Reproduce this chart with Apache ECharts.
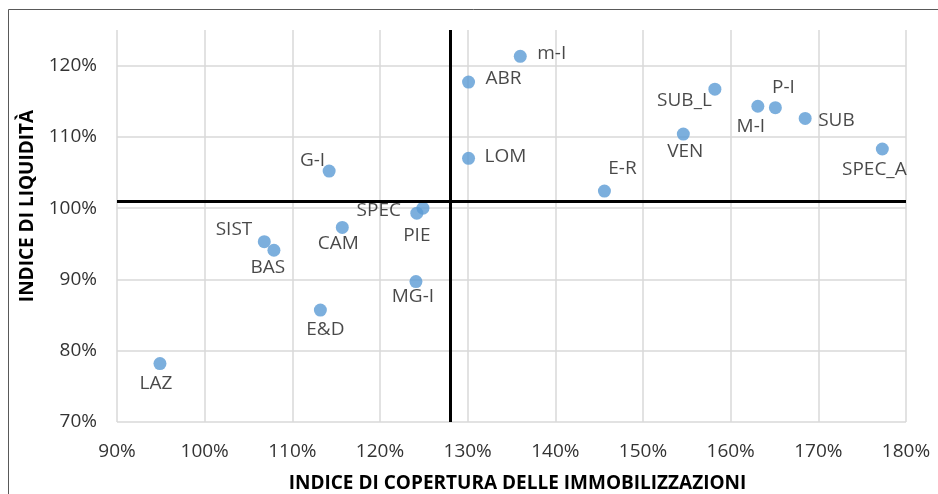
<!DOCTYPE html>
<html>
<head>
<meta charset="utf-8">
<script src="https://cdn.jsdelivr.net/npm/echarts@6/dist/echarts.min.js"></script>
<style>
  html, body { margin: 0; padding: 0; background: #ffffff; }
  #chart { width: 938px; height: 494px; }
</style>
</head>
<body>
<div id="chart"></div>
<script>
// Regioni / settori
const names = ['m-I', 'ABR', 'LOM', 'G-I', 'SPEC', 'PIE', 'CAM', 'SIST', 'BAS', 'MG-I',
               'E&D', 'LAZ', 'E-R', 'VEN', 'SUB_L', 'M-I', 'P-I', 'SUB', 'SPEC_A'];
// Indice di copertura delle immobilizzazioni
const copertura = [1.360, 1.301, 1.301, 1.142, 1.249, 1.242, 1.157, 1.068, 1.079, 1.241,
                   1.132, 0.949, 1.456, 1.546, 1.582, 1.631, 1.651, 1.685, 1.773];
// Indice di liquidità
const liquidita = [1.213, 1.177, 1.070, 1.052, 1.000, 0.993, 0.973, 0.953, 0.941, 0.897,
                   0.857, 0.782, 1.024, 1.104, 1.167, 1.143, 1.141, 1.126, 1.083];
// Valori medi che dividono il piano in quadranti
const mediaCopertura = 1.28;
const mediaLiquidita = 1.013;
// Etichette degli assi
const xTicks = [0.9, 1.0, 1.1, 1.2, 1.3, 1.4, 1.5, 1.6, 1.7, 1.8];
const yTicks = [0.7, 0.8, 0.9, 1.0, 1.1, 1.2];

// Posizione delle etichette rispetto al punto: [allineamento, dx, dy]
const labelPlace = {
  'm-I': ['left', 17, -3], 'ABR': ['left', 17, -3], 'LOM': ['left', 16, -2],
  'G-I': ['right', -4, -11], 'SPEC': ['right', -22, 2], 'PIE': ['center', 0, 22],
  'CAM': ['center', -4, 16], 'SIST': ['right', -12, -12], 'BAS': ['center', -6, 17],
  'MG-I': ['center', -3, 15], 'E&D': ['center', 5, 19], 'LAZ': ['center', -4, 20],
  'E-R': ['center', 18, -22], 'VEN': ['center', 2, 18], 'SUB_L': ['right', -3, 11],
  'M-I': ['center', -7, 20], 'P-I': ['center', 8, -20], 'SUB': ['left', 13, 2],
  'SPEC_A': ['center', -8, 21]
};

const FONT = '"Open Sans", "Noto Sans", sans-serif';
const pct = v => Math.round(v * 100) + '%';

const points = names.map((n, i) => {
  const p = labelPlace[n];
  return {
    name: n,
    value: [copertura[i], liquidita[i]],
    label: { align: p[0], offset: [p[1], p[2]] }
  };
});

const chart = echarts.init(document.getElementById('chart'), null, { renderer: 'canvas' });
chart.setOption({
  backgroundColor: '#ffffff',
  animation: false,
  graphic: [{
    type: 'rect',
    shape: { x: 8.5, y: 9.5, width: 1000, height: 1000 },
    style: { fill: 'none', stroke: '#595959', lineWidth: 1 },
    silent: true
  }],
  grid: { left: 117, right: 32, top: 30, bottom: 72, containLabel: false, outerBoundsMode: 'none' },
  xAxis: {
    type: 'value', min: 0.9, max: 1.8, interval: 0.1,
    name: 'INDICE DI COPERTURA DELLE IMMOBILIZZAZIONI',
    nameLocation: 'middle', nameGap: 52,
    nameTextStyle: { fontFamily: FONT, fontSize: 19, fontWeight: 'bold', color: '#000', padding: [0, 0, 0, 12] },
    axisLine: { show: false }, axisTick: { show: false },
    axisLabel: { formatter: pct, fontFamily: FONT, fontSize: 19, color: '#333333', margin: 20 },
    splitLine: { show: true, lineStyle: { color: '#d9d9d9', width: 1.5 } }
  },
  yAxis: {
    type: 'value', min: 0.7, max: 1.25, interval: 0.1,
    name: 'INDICE DI LIQUIDITÀ',
    nameLocation: 'middle', nameGap: 80, nameRotate: 90,
    nameTextStyle: { fontFamily: FONT, fontSize: 19, fontWeight: 'bold', color: '#000', padding: [0, 0, 0, 40] },
    axisLine: { show: false }, axisTick: { show: false },
    axisLabel: { formatter: pct, fontFamily: FONT, fontSize: 19, color: '#333333', margin: 20, showMaxLabel: false },
    splitLine: { show: true, showMaxLine: false, lineStyle: { color: '#d9d9d9', width: 1.5 } }
  },
  series: [{
    type: 'scatter',
    data: points,
    symbol: 'circle',
    symbolSize: 13,
    itemStyle: { color: '#5b9bd5' },
    label: {
      show: true, position: 'inside', verticalAlign: 'middle',
      formatter: p => p.name,
      fontFamily: FONT, fontSize: 19, color: '#1a1a1a'
    },
    markLine: {
      silent: true, symbol: 'none',
      label: { show: false },
      lineStyle: { color: '#000000', width: 3, type: 'solid' },
      data: [{ xAxis: mediaCopertura }, { yAxis: mediaLiquidita }]
    },
    z: 3
  }]
});
</script>
</body>
</html>
